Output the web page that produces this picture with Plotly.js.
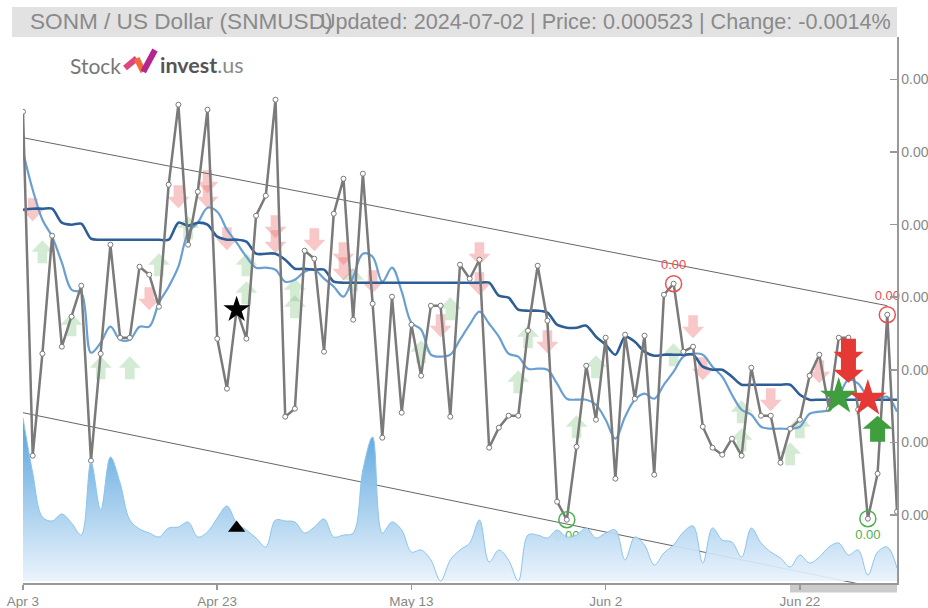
<!DOCTYPE html>
<html><head><meta charset="utf-8">
<script src="https://cdn.plot.ly/plotly-3.0.1.min.js"></script>
<style>html,body{margin:0;padding:0;background:#fff}#chart{width:928px;height:608px}</style>
</head><body><div id="chart"></div>
<script>
// ---- data ----
const firstDay = '2024-04-03';
const price = [0.0005630,0.0005286,0.0005388,0.0005506,0.0005395,0.0005425,0.0005456,0.0005281,0.0005388,0.0005497,
0.0005404,0.0005404,0.0005475,0.0005467,0.0005435,0.0005557,0.0005637,0.0005497,0.0005550,0.0005632,
0.0005403,0.0005353,0.0005432,0.0005403,0.0005526,0.0005546,0.0005642,0.0005325,0.0005333,0.0005491,
0.0005483,0.0005390,0.0005528,0.0005563,0.0005422,0.0005568,0.0005438,0.0005304,0.0005445,0.0005329,
0.0005417,0.0005366,0.0005436,0.0005436,0.0005325,0.0005477,0.0005463,0.0005482,0.0005294,0.0005314,
0.0005326,0.0005326,0.0005411,0.0005476,0.0005421,0.0005240,0.0005222,0.0005295,0.0005376,0.0005322,
0.0005404,0.0005263,0.0005407,0.0005343,0.0005406,0.0005267,0.0005447,0.0005458,0.0005390,0.0005395,
0.0005315,0.0005294,0.0005287,0.0005303,0.0005286,0.0005374,0.0005326,0.0005326,0.0005279,0.0005313,
0.0005322,0.0005366,0.0005387,0.0005333,0.0005404,0.0005404,0.0005332,0.0005223,0.0005268,0.0005427,
0.0005230];
const maFast = [0.0005590,0.0005552,0.0005522,0.0005505,0.0005479,0.0005452,0.0005449,0.0005389,0.0005399,0.0005415,
0.0005402,0.0005402,0.0005415,0.0005415,0.0005439,0.0005455,0.0005475,0.0005509,0.0005519,0.0005534,
0.0005530,0.0005512,0.0005499,0.0005485,0.0005474,0.0005474,0.0005472,0.0005460,0.0005462,0.0005470,
0.0005472,0.0005463,0.0005455,0.0005445,0.0005465,0.0005488,0.0005485,0.0005460,0.0005474,0.0005450,
0.0005419,0.0005412,0.0005387,0.0005385,0.0005387,0.0005402,0.0005417,0.0005430,0.0005418,0.0005405,
0.0005388,0.0005385,0.0005373,0.0005373,0.0005372,0.0005358,0.0005343,0.0005342,0.0005342,0.0005337,
0.0005322,0.0005303,0.0005325,0.0005342,0.0005348,0.0005343,0.0005357,0.0005370,0.0005385,0.0005388,
0.0005387,0.0005375,0.0005365,0.0005347,0.0005332,0.0005327,0.0005315,0.0005313,0.0005313,0.0005313,
0.0005315,0.0005328,0.0005330,0.0005332,0.0005345,0.0005362,0.0005358,0.0005345,0.0005343,0.0005345,
0.0005330];
const maSlow = [0.0005532,0.0005533,0.0005533,0.0005533,0.0005519,0.0005517,0.0005518,0.0005503,0.0005502,0.0005502,
0.0005502,0.0005502,0.0005502,0.0005502,0.0005502,0.0005502,0.0005519,0.0005516,0.0005519,0.0005517,
0.0005505,0.0005502,0.0005502,0.0005500,0.0005488,0.0005488,0.0005488,0.0005482,0.0005473,0.0005473,
0.0005472,0.0005472,0.0005460,0.0005459,0.0005459,0.0005459,0.0005459,0.0005459,0.0005459,0.0005459,
0.0005459,0.0005459,0.0005459,0.0005459,0.0005459,0.0005459,0.0005459,0.0005459,0.0005459,0.0005446,
0.0005444,0.0005432,0.0005431,0.0005431,0.0005429,0.0005417,0.0005414,0.0005414,0.0005416,0.0005405,
0.0005397,0.0005387,0.0005405,0.0005400,0.0005390,0.0005386,0.0005387,0.0005387,0.0005387,0.0005387,
0.0005375,0.0005372,0.0005372,0.0005365,0.0005357,0.0005357,0.0005357,0.0005357,0.0005357,0.0005357,
0.0005347,0.0005342,0.0005342,0.0005342,0.0005342,0.0005342,0.0005342,0.0005342,0.0005342,0.0005342,
0.0005342];
const volume = [163,108,64,60,67,58,46,119,71,124,
98,61,52,48,44,53,54,59,44,49,
63,75,58,51,43,34,61,60,59,48,
54,62,44,46,48,111,144,48,59,51,
29,31,21,0,21,31,38,61,19,31,
21,0,46,46,43,51,44,46,53,43,
48,51,21,44,36,16,28,36,49,55,
18,53,41,39,24,53,38,29,23,14,
26,18,24,34,38,26,31,6,29,34,
13];
const trendUpperDay = [0, 89];
const trendUpperVal = [0.0005604, 0.0005436];
const trendLowerDay = [0, 88];
const trendLowerVal = [0.0005329, 0.0005154];
const tickDays = [0, 20, 40, 60, 80];
const tickLabels = ['Apr 3', 'Apr 23', 'May 13', 'Jun 2', 'Jun 22'];
const upSigDay = [2,5,8,11,14,17,23,23,28,28,34,41,44,51,52,57,59,67,74,74,79,80];
const upSigVal = [0.0005490,0.0005417,0.0005374,0.0005374,0.0005477,0.0005514,0.0005477,0.0005449,0.0005452,0.0005435,0.0005462,
0.0005390,0.0005433,0.0005360,0.0005405,0.0005315,0.0005375,0.0005387,0.0005330,0.0005302,0.0005288,0.0005315];
const dnSigDay = [1,13,16,19,19,21,26,26,30,33,33,36,43,47,47,54,69,70,77,82];
const dnSigVal = [0.0005532,0.0005443,0.0005545,0.0005560,0.0005545,0.0005503,0.0005515,0.0005500,0.0005502,0.0005488,
0.0005473,0.0005460,0.0005416,0.0005488,0.0005458,0.0005400,0.0005415,0.0005373,0.0005342,0.0005370];
const strongDnDay = [85, 85];
const strongDnVal = [0.0005390, 0.0005372];
const strongUpDay = [88];
const strongUpVal = [0.0005313];
const greenStarDay = [84], greenStarVal = [0.0005345];
const redStarDay = [87], redStarVal = [0.0005343];
const blackStarDay = [22], blackStarVal = [0.0005432];
const triangleDay = [22], triangleVol = [53];
const highMarkDay = [67, 89];
const lowMarkDay = [56, 87];
const markLabel = '0.00';

// ---- build ----
const days = price.map((_, i) => {
  const d = new Date(Date.UTC(2024, 3, 3 + i));
  return d.toISOString().slice(0, 10);
});
const D = i => days[i];

const FONT = 'Liberation Sans, Arial, sans-serif';
const traces = [];
traces.push({
  x: days, y: volume, yaxis: 'y2', type: 'scatter', mode: 'lines',
  line: {color: '#8cc4ea', width: 1, shape: 'spline', smoothing: 1},
  fill: 'tozeroy',
  fillgradient: {type: 'vertical', start: 0, stop: 150,
    colorscale: [[0, 'rgba(232,242,252,0.9)'], [0.4, 'rgba(176,212,240,0.95)'], [1, 'rgba(95,168,224,1)']]},
  hoverinfo: 'skip'
});
traces.push({x: trendUpperDay.map(D), y: trendUpperVal, mode: 'lines', line: {color: '#666', width: 1}, hoverinfo: 'skip'});
traces.push({x: trendLowerDay.map(D), y: trendLowerVal, mode: 'lines', line: {color: '#666', width: 1}, hoverinfo: 'skip'});
traces.push({x: days, y: maFast, mode: 'lines', line: {color: '#6a9fd2', width: 2.2, shape: 'spline', smoothing: 1}});
traces.push({x: days, y: maSlow, mode: 'lines', line: {color: '#2d5e96', width: 2.6, shape: 'spline', smoothing: 0.8}});
traces.push({x: days, y: price, mode: 'lines+markers', line: {color: '#7a7a7a', width: 2.5},
  marker: {size: 5, color: '#fff', line: {color: '#7a7a7a', width: 1}}});
traces.push({x: highMarkDay.map(D), y: highMarkDay.map(i => price[i]), mode: 'markers+text',
  marker: {symbol: 'circle-open', size: 16, color: '#e85050', line: {width: 1.5}},
  text: highMarkDay.map(() => markLabel), textposition: 'top center',
  textfont: {family: FONT, size: 13, color: '#e85050'}, cliponaxis: false});
traces.push({x: lowMarkDay.map(D), y: lowMarkDay.map(i => price[i]), mode: 'markers+text',
  marker: {symbol: 'circle-open', size: 16, color: '#4caf50', line: {width: 1.5}},
  text: lowMarkDay.map(() => markLabel), textposition: 'bottom center',
  textfont: {family: FONT, size: 13, color: '#4caf50'}, cliponaxis: false});
traces.push({x: greenStarDay.map(D), y: greenStarVal, mode: 'markers', marker: {symbol: 'star', size: 28, color: '#3f9f3f'}});
traces.push({x: redStarDay.map(D), y: redStarVal, mode: 'markers', marker: {symbol: 'star', size: 28, color: '#e53935'}});
traces.push({x: blackStarDay.map(D), y: blackStarVal, mode: 'markers', marker: {symbol: 'star', size: 20, color: '#000'}});
traces.push({x: triangleDay.map(D), y: triangleVol, yaxis: 'y2', mode: 'markers', marker: {symbol: 'triangle-up', size: 15, color: '#000'}});

function arrowPath(dir, w, h, sw) {
  const hh = h / 2;
  if (dir === 'up') return `M0,${hh} L${w},0 L${sw},0 L${sw},${-hh} L${-sw},${-hh} L${-sw},0 L${-w},0 Z`;
  return `M0,${-hh} L${w},0 L${sw},0 L${sw},${hh} L${-sw},${hh} L${-sw},0 L${-w},0 Z`;
}
const shapes = [];
function addArrow(day, val, dir, color, big, layer) {
  shapes.push({type: 'path', xref: 'x', yref: 'y', xsizemode: 'pixel', ysizemode: 'pixel',
    xanchor: D(day), yanchor: val,
    path: big ? arrowPath(dir, 15, 26, 7.5) : arrowPath(dir, 11, 23, 4.8),
    fillcolor: color, line: {width: 0}, layer: layer});
}
upSigDay.forEach((d, k) => addArrow(d, upSigVal[k], 'up', 'rgba(120,190,120,0.33)', false, 'below'));
dnSigDay.forEach((d, k) => addArrow(d, dnSigVal[k], 'down', 'rgba(236,110,110,0.38)', false, 'below'));
strongDnDay.forEach((d, k) => addArrow(d, strongDnVal[k], 'down', '#e53935', true, 'above'));
strongUpDay.forEach((d, k) => addArrow(d, strongUpVal[k], 'up', '#3f9f3f', true, 'above'));

// title band
shapes.push({type: 'rect', xref: 'paper', yref: 'paper', x0: -0.0126, x1: 1.0, y0: 1.0, y1: 1.0549,
  fillcolor: '#e2e2e2', line: {width: 0}, layer: 'below'});
// scrollbar
shapes.push({type: 'rect', xref: 'paper', yref: 'paper', x0: 0.8776, x1: 1.0, y0: -0.0174, y1: -0.001,
  fillcolor: '#cbcbcb', line: {width: 0}, layer: 'below'});
// logo mark
const logoX = 0.1144, logoY = 0.9322;
[['M2,6 L13.7,15.7', '#e0457d'], ['M13.7,15.7 L20.3,2.3', '#f26a3a'], ['M20.3,2.3 L32,24', '#b5258f']].forEach(p => {
  shapes.push({type: 'path', xref: 'paper', yref: 'paper', xsizemode: 'pixel', ysizemode: 'pixel',
    xanchor: logoX, yanchor: logoY, path: p[0], line: {color: p[1], width: 6}});
});

const annotations = [
  {xref: 'paper', yref: 'paper', x: 0.0057, y: 1.0275, xanchor: 'left', yanchor: 'middle', showarrow: false,
   text: 'SONM / US Dollar (SNMUSD)', font: {family: FONT, size: 22.6, color: '#8a8a8a'}},
  {xref: 'paper', yref: 'paper', x: 0.9954, y: 1.0275, xanchor: 'right', yanchor: 'middle', showarrow: false,
   text: 'Updated: 2024-07-02 | Price: 0.000523 | Change: -0.0014%', font: {family: FONT, size: 21.6, color: '#8a8a8a'}},
  {xref: 'paper', yref: 'paper', x: 0.0515, y: 0.9487, xanchor: 'left', yanchor: 'middle', showarrow: false,
   text: 'Stock', font: {family: 'Lato, sans-serif', size: 21, color: '#777'}},
  {xref: 'paper', yref: 'paper', x: 0.1545, y: 0.9487, xanchor: 'left', yanchor: 'middle', showarrow: false,
   text: '<b>invest</b><span style="color:#8a8a8a">.us</span>', font: {family: 'Lato, sans-serif', size: 21.5, color: '#555'}}
];

const layout = {
  width: 928, height: 608,
  margin: {l: 23, r: 31, t: 37, b: 25, pad: 0},
  paper_bgcolor: '#fff', plot_bgcolor: '#fff',
  showlegend: false, hovermode: false,
  xaxis: {type: 'date', range: [days[0], days[days.length - 1]], tickmode: 'array',
    tickvals: tickDays.map(D), ticktext: tickLabels, showline: true, linecolor: '#999', linewidth: 1.5,
    ticks: 'outside', ticklen: 5, tickcolor: '#999', tickwidth: 1.5, ticklabeloverflow: 'allow',
    tickfont: {family: FONT, size: 13.5, color: '#888'}, showgrid: false, zeroline: false},
  yaxis: {range: [0.00051587, 0.00057047], side: 'right', tickmode: 'linear', tick0: 0.00052267, dtick: 0.00000726,
    tickformat: '.6f', showline: true, linecolor: '#999', linewidth: 1.5, ticks: 'inside', ticklen: 7,
    tickcolor: '#999', tickwidth: 1.5, ticklabeloverflow: 'allow',
    tickfont: {family: FONT, size: 14, color: '#888'}, showgrid: false, zeroline: false},
  yaxis2: {overlaying: 'y', range: [-2, 544], visible: false, fixedrange: true},
  shapes: shapes, annotations: annotations
};
Plotly.newPlot('chart', traces, layout, {displayModeBar: false, staticPlot: true});
</script></body></html>
